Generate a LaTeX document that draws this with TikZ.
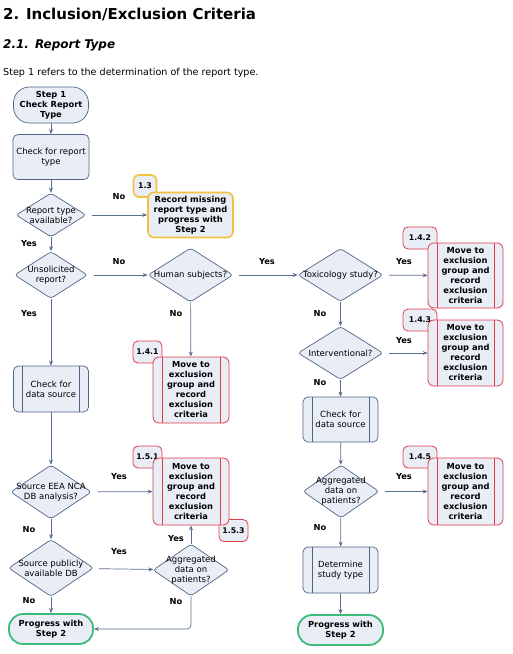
\documentclass[tikz,border=0pt]{standalone}
\usepackage{fontspec}
\setmainfont{DejaVu Sans}
\usetikzlibrary{shapes.geometric,arrows.meta}

\begin{document}
\begin{tikzpicture}[x=1pt,y=-1pt,font=\fontsize{8.5}{10}\selectfont,
  base/.style={draw=flowline,fill=flowfill,line width=0.7pt,align=center,inner sep=1pt},
  termbox/.style={base,rounded corners=14pt,font=\bfseries\fontsize{8.3}{10}\selectfont},
  endbox/.style={termbox,draw=endgreen,line width=1.8pt,minimum width=84pt,minimum height=30pt},
  procbox/.style={base,rounded corners=5pt,minimum width=75pt,minimum height=46pt},
  subbox/.style={procbox,path picture={
      \draw[flowline,line width=0.7pt]
        ([xshift=9pt]path picture bounding box.north west) -- ([xshift=9pt]path picture bounding box.south west)
        ([xshift=-9pt]path picture bounding box.north east) -- ([xshift=-9pt]path picture bounding box.south east);}},
  exclbox/.style={base,draw=exclred,line width=0.8pt,rounded corners=6pt,minimum width=75pt,minimum height=66pt,
    font=\bfseries\fontsize{8.3}{10}\selectfont,path picture={
      \draw[exclred,line width=0.8pt]
        ([xshift=9pt]path picture bounding box.north west) -- ([xshift=9pt]path picture bounding box.south west)
        ([xshift=-9pt]path picture bounding box.north east) -- ([xshift=-9pt]path picture bounding box.south east);}},
  tagbox/.style={base,draw=exclred,line width=0.8pt,rounded corners=5pt,minimum height=22pt,minimum width=29pt,
    font=\bfseries\fontsize{7.8}{9}\selectfont},
  dia/.style={base,diamond,inner sep=0pt,rounded corners=3pt},
  diatext/.style={align=center,font=\fontsize{8.5}{10}\selectfont},
  flowarrow/.style={draw=arrowcol,line width=0.7pt,-{Stealth[length=5pt,width=4pt]}},
  answer/.style={font=\bfseries\fontsize{8.3}{10}\selectfont}]
  \definecolor{flowfill}{HTML}{E9EDF5}
  \definecolor{flowline}{HTML}{4F6587}
  \definecolor{arrowcol}{HTML}{5A6F8F}
  \definecolor{exclred}{HTML}{E03C4A}
  \definecolor{endgreen}{HTML}{3DBB78}
  \definecolor{warnyellow}{HTML}{F2C23E}
  \path[use as bounding box,fill=white] (0,0) rectangle (513,654);

  % headings
  \node[anchor=base west,inner sep=0pt,font=\bfseries\fontsize{15}{18}\selectfont] (title) at (3,19) {2.\hspace{0.45em}Inclusion/Exclusion Criteria};
  \node[anchor=base west,inner sep=0pt,font=\bfseries\itshape\fontsize{12}{14}\selectfont] (subtitle) at (3,48) {2.1.\hspace{0.5em}Report Type};
  \node[anchor=base west,inner sep=0pt,font=\fontsize{9.6}{11}\selectfont] (intro) at (3,75) {Step 1 refers to the determination of the report type.};

  % tags (behind their boxes)
  \node[tagbox,draw=warnyellow,line width=1.6pt,minimum width=23pt] (t13) at (145,186) {1.3};
  \node[tagbox] (t141) at (147.5,352) {1.4.1};
  \node[tagbox,minimum width=34pt] (t142) at (420,238) {1.4.2};
  \node[tagbox,minimum width=34pt] (t143) at (420,320) {1.4.3};
  \node[tagbox] (t151) at (147.5,457) {1.5.1};
  \node[tagbox] (t153) at (233.5,530.5) {1.5.3};
  \node[tagbox,minimum width=34pt] (t145) at (420,457) {1.4.5};

  % left column
  \node[termbox,minimum width=75pt,minimum height=36pt,rounded corners=16pt] (start) at (51,105) {Step 1\\Check Report\\Type};
  \node[procbox,minimum width=76pt,minimum height=45pt] (chk1) at (51,157) {Check for report\\type};
  \node[dia,minimum width=70pt,minimum height=44pt] (avail) at (51,215) {};
  \node[diatext] at (avail) {Report type\\available?};
  \node[dia,minimum width=73pt,minimum height=47pt] (unsol) at (51,275) {};
  \node[diatext] at (unsol) {Unsolicited\\report?};
  \node[subbox] (srcL) at (51,389) {Check for\\data source};
  \node[dia,minimum width=81pt,minimum height=54pt] (eea) at (51,492) {};
  \node[diatext] at (eea) {Source EEA NCA\\DB analysis?};
  \node[dia,minimum width=85pt,minimum height=57pt] (pubdb) at (51,568) {};
  \node[diatext] at (pubdb) {Source publicly\\available DB};
  \node[endbox] (endL) at (51,629) {Progress with\\Step 2};

  % middle column
  \node[base,draw=warnyellow,line width=1.6pt,rounded corners=6pt,minimum width=85pt,minimum height=45pt,
    font=\bfseries\fontsize{8.3}{10}\selectfont] (rec13) at (190.5,215) {Record missing\\report type and\\progress with\\Step 2};
  \node[dia,minimum width=85pt,minimum height=54pt] (human) at (190.5,275) {};
  \node[diatext] at (human) {Human subjects?};
  \node[exclbox,minimum width=76pt] (ex141) at (191,390) {Move to\\exclusion\\group and\\record\\exclusion\\criteria};
  \node[exclbox,minimum width=76pt,minimum height=67pt] (ex151) at (191,491.5) {Move to\\exclusion\\group and\\record\\exclusion\\criteria};
  \node[dia,minimum width=76pt,minimum height=52pt] (aggL) at (191,570) {};
  \node[diatext] at (aggL) {Aggregated\\data on\\patients?};

  % right columns
  \node[dia,minimum width=85pt,minimum height=53pt] (toxic) at (340.5,275) {};
  \node[diatext] at (toxic) {Toxicology study?};
  \node[exclbox,minimum height=65pt] (ex142) at (465.5,275.5) {Move to\\exclusion\\group and\\record\\exclusion\\criteria};
  \node[dia,minimum width=85pt,minimum height=53pt] (interv) at (340.5,353) {};
  \node[diatext] at (interv) {Interventional?};
  \node[exclbox] (ex143) at (465.5,353) {Move to\\exclusion\\group and\\record\\exclusion\\criteria};
  \node[subbox,minimum height=45pt] (srcR) at (340.5,419.5) {Check for\\data source};
  \node[dia,minimum width=76pt,minimum height=53pt] (aggR) at (341,491.5) {};
  \node[diatext] at (aggR) {Aggregated\\data on\\patients?};
  \node[exclbox,minimum height=67pt] (ex145) at (465.5,491.5) {Move to\\exclusion\\group and\\record\\exclusion\\criteria};
  \node[subbox] (study) at (340.5,570) {Determine\\study type};
  \node[endbox,minimum width=85pt] (endR) at (340.5,630) {Progress with\\Step 2};

  % connectors
  \draw[flowarrow] (start) -- (chk1);
  \draw[flowarrow] (chk1) -- (avail);
  \draw[flowarrow,shorten <=6pt] (avail) -- (rec13);
  \draw[flowarrow] (avail) -- (unsol);
  \draw[flowarrow,shorten <=6pt] (unsol) -- (human);
  \draw[flowarrow,shorten <=6pt] (human) -- (toxic);
  \draw[flowarrow,shorten <=6pt] (toxic) -- (ex142);
  \draw[flowarrow] (human) -- (ex141);
  \draw[flowarrow] (toxic) -- (interv);
  \draw[flowarrow,shorten <=6pt] (interv) -- (ex143);
  \draw[flowarrow] (interv) -- (srcR);
  \draw[flowarrow] (srcR) -- (aggR);
  \draw[flowarrow,shorten <=6pt] (aggR) -- (ex145);
  \draw[flowarrow] (aggR) -- (study);
  \draw[flowarrow] (study) -- (endR);
  \draw[flowarrow] (unsol) -- (srcL);
  \draw[flowarrow] (srcL) -- (eea);
  \draw[flowarrow,shorten <=6pt] (eea) -- (ex151);
  \draw[flowarrow] (eea) -- (pubdb);
  \draw[flowarrow,shorten <=6pt] (pubdb) -- (aggL);
  \draw[flowarrow] (aggL) -- (ex151);
  \draw[flowarrow] (pubdb) -- (endL);
  \draw[flowarrow,rounded corners=4pt] (aggL.south) |- (endL.east);

  % answers
  \node[answer] (a1) at (119,197) {No};
  \node[answer] (a2) at (29,244) {Yes};
  \node[answer] (a3) at (119,262) {No};
  \node[answer] (a4) at (267,262) {Yes};
  \node[answer] (a5) at (404,262) {Yes};
  \node[answer] (a6) at (176,314) {No};
  \node[answer] (a7) at (29,314) {Yes};
  \node[answer] (a8) at (320,314) {No};
  \node[answer] (a9) at (404,341) {Yes};
  \node[answer] (a10) at (320,383) {No};
  \node[answer] (a11) at (119,477) {Yes};
  \node[answer] (a12) at (404,477) {Yes};
  \node[answer] (a13) at (29,530) {No};
  \node[answer] (a14) at (320,528) {No};
  \node[answer] (a15) at (119,552) {Yes};
  \node[answer] (a16) at (176,539) {Yes};
  \node[answer] (a17) at (29,601) {No};
  \node[answer] (a18) at (176,602) {No};
\end{tikzpicture}
\end{document}
